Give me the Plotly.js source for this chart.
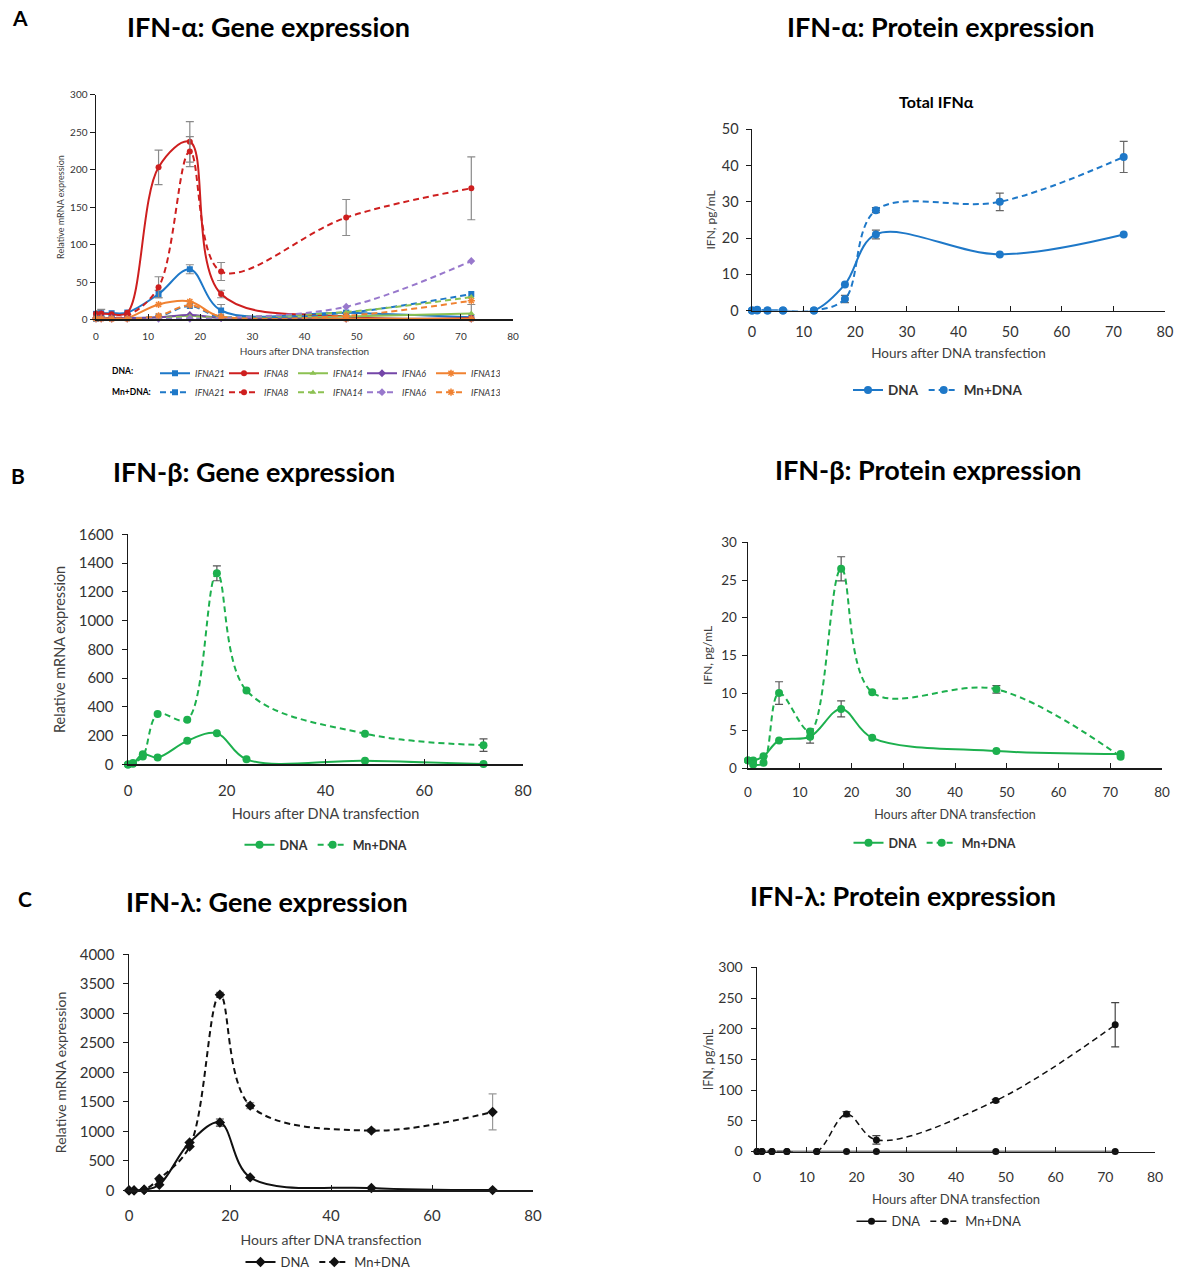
<!DOCTYPE html>
<html><head><meta charset="utf-8">
<script src="https://cdn.plot.ly/plotly-3.0.1.min.js"></script>
<style>body{margin:0;background:#fff}#chart{width:1177px;height:1277px}</style>
</head><body><div id="chart"></div>
<script>
// ---------- shared time points (hours after DNA transfection) ----------
const hours = [0, 1, 3, 6, 12, 18, 24, 48, 72];

// ---------- A (left): IFN-alpha gene expression ----------
const ifna21Dna    = [7.5, 8.4, 8.4, 9.3, 34, 67, 12, 9, 3];
const ifna21DnaErr = [4, 5, NaN, NaN, 5, 6, 8, NaN, NaN];
const ifna8Dna     = [7.5, 8, 7, 9, 203, 237, 34, 4, 2];
const ifna8DnaErr  = [NaN, NaN, NaN, NaN, 23, 27, 5, NaN, NaN];
const ifna14Dna    = [1, 1, 1, 1, 3, 5, 2, 4, 8];
const ifna14DnaErr = [NaN, NaN, NaN, NaN, NaN, NaN, NaN, NaN, 12];
const ifna6Dna     = [2, 2, 2, 2, 3, 6, 2, 1, 1];
const ifna13Dna    = [2, 2, 1, 2, 20, 24, 3, 1, 1];
const ifna21Mn     = [1, 2, 2, 2, 4, 18, 3, 9, 34];
const ifna8Mn      = [2, 2, 2, 5, 43, 224, 64, 136, 175];
const ifna8MnErr   = [NaN, NaN, NaN, NaN, 14, 20, 12, 24, 42];
const ifna14Mn     = [1, 1, 1, 1, 2, 4, 3, 10, 30];
const ifna6Mn      = [1, 1, 1, 1, 1, 1, 2, 17, 78];
const ifna13Mn     = [1, 1, 1, 1, 5, 19, 4, 5, 25];

// ---------- A (right): total IFN-alpha protein ----------
const ifnaProtDna    = [0, 0, 0, 0, 0, 7.2, 21.0, 15.5, 21.0];
const ifnaProtDnaErr = [NaN, NaN, NaN, NaN, NaN, NaN, 1.2, NaN, NaN];
const ifnaProtMn     = [0, 0.2, 0, 0, 0, 3.2, 27.7, 30.0, 42.4];
const ifnaProtMnErr  = [NaN, NaN, NaN, NaN, NaN, 1.0, 0.7, 2.4, 4.3];

// ---------- B: IFN-beta ----------
const ifnbGeneDna    = [0, 5, 71, 48, 164, 217, 35, 25, 2];
const ifnbGeneMn     = [0, 10, 55, 350, 311, 1330, 514, 214, 134];
const ifnbGeneMnErr  = [NaN, NaN, NaN, NaN, NaN, 52, NaN, NaN, 44];
const ifnbProtDna    = [1.06, 1.06, 1.6, 3.7, 4.2, 7.9, 4.05, 2.3, 1.9];
const ifnbProtDnaErr = [NaN, NaN, NaN, NaN, 0.85, 1.05, NaN, NaN, NaN];
const ifnbProtMn     = [1.06, 0.5, 0.75, 10.0, 4.9, 26.5, 10.1, 10.5, 1.55];
const ifnbProtMnErr  = [NaN, NaN, NaN, 1.5, NaN, 1.6, NaN, 0.5, NaN];

// ---------- C: IFN-lambda ----------
const ifnlGeneDna    = [0, 0, 10, 96, 811, 1150, 220, 40, 5];
const ifnlGeneDnaErr = [NaN, NaN, NaN, NaN, NaN, 60, NaN, NaN, NaN];
const ifnlGeneMn     = [0, 0, 10, 197, 744, 3318, 1437, 1014, 1330];
const ifnlGeneMnErr  = [NaN, NaN, NaN, NaN, NaN, 40, 50, 30, 305];
const ifnlProtDna    = [0, 0, 0, 0, 0, 0, 0, 0, 0];
const ifnlProtMn     = [0, 0, 0, 0, 0, 61, 19, 83, 206.5];
const ifnlProtMnErr  = [NaN, NaN, NaN, NaN, NaN, 4, 7, 2, 36];

const FONT = 'Lato, "Open Sans", sans-serif';
const DASH = '6px,4px';

function tr(y, err, name, color, dash, symbol, msize, axis, legend, ecolor, lw) {
  const t = {
    x: hours, y: y, name: name, type: 'scatter', mode: 'lines+markers',
    line: {color: color, width: lw || 2, dash: dash, shape: 'spline', smoothing: 1},
    marker: {color: color, size: msize, symbol: symbol, line: {color: color, width: symbol.indexOf('open') >= 0 ? 1.5 : 0}},
    xaxis: 'x' + axis, yaxis: 'y' + axis, legend: legend, cliponaxis: false,
    hoverinfo: 'x+y'
  };
  if (err) t.error_y = {type: 'data', array: err, visible: true, color: ecolor || '#8a8a8a', thickness: 1.2, width: 4};
  return t;
}

const cBlue = '#1E78C8', cRed = '#CE1F1F', cLGreen = '#8CC152', cPurp = '#7446A8', cPurpL = '#9878CC', cOrange = '#F08232';
const cGreen = '#1DB04E', cBlack = '#111111';

const traces = [
  tr(ifna21Dna, ifna21DnaErr, '<i>IFNA21</i>', cBlue, 'solid', 'square', 6, '', 'legend', null, 2),
  tr(ifna8Dna, ifna8DnaErr, '<i>IFNA8</i>', cRed, 'solid', 'circle', 6, '', 'legend', null, 2),
  tr(ifna14Dna, ifna14DnaErr, '<i>IFNA14</i>', cLGreen, 'solid', 'triangle-up', 6, '', 'legend', null, 2),
  tr(ifna6Dna, null, '<i>IFNA6</i>', cPurp, 'solid', 'diamond', 6, '', 'legend', null, 2),
  tr(ifna13Dna, null, '<i>IFNA13</i>', cOrange, 'solid', 'asterisk-open', 6, '', 'legend', null, 2),
  tr(ifna21Mn, null, '<i>IFNA21</i>', cBlue, DASH, 'square', 6, '', 'legend2', null, 2),
  tr(ifna8Mn, ifna8MnErr, '<i>IFNA8</i>', cRed, DASH, 'circle', 6, '', 'legend2', null, 2),
  tr(ifna14Mn, null, '<i>IFNA14</i>', cLGreen, DASH, 'triangle-up', 6, '', 'legend2', null, 2),
  tr(ifna6Mn, null, '<i>IFNA6</i>', cPurpL, DASH, 'diamond', 6, '', 'legend2', null, 2),
  tr(ifna13Mn, null, '<i>IFNA13</i>', cOrange, DASH, 'asterisk-open', 6, '', 'legend2', null, 2),

  tr(ifnaProtDna, ifnaProtDnaErr, '<b>DNA</b>', cBlue, 'solid', 'circle', 8, '2', 'legend3', '#666', 2),
  tr(ifnaProtMn, ifnaProtMnErr, '<b>Mn+DNA</b>', cBlue, DASH, 'circle', 8, '2', 'legend3', '#666', 2),

  tr(ifnbGeneDna, null, '<b>DNA</b>', cGreen, 'solid', 'circle', 8, '3', 'legend4', '#555', 2),
  tr(ifnbGeneMn, ifnbGeneMnErr, '<b>Mn+DNA</b>', cGreen, DASH, 'circle', 8, '3', 'legend4', '#555', 2),

  tr(ifnbProtDna, ifnbProtDnaErr, '<b>DNA</b>', cGreen, 'solid', 'circle', 8, '4', 'legend5', '#555', 2),
  tr(ifnbProtMn, ifnbProtMnErr, '<b>Mn+DNA</b>', cGreen, DASH, 'circle', 8, '4', 'legend5', '#555', 2),

  tr(ifnlGeneDna, ifnlGeneDnaErr, 'DNA', cBlack, 'solid', 'diamond', 8, '5', 'legend6', '#444', 2),
  tr(ifnlGeneMn, ifnlGeneMnErr, 'Mn+DNA', cBlack, DASH, 'diamond', 8, '5', 'legend6', '#999', 2),

  tr(ifnlProtDna, null, 'DNA', cBlack, 'solid', 'circle', 7, '6', 'legend7', '#444', 1.5),
  tr(ifnlProtMn, ifnlProtMnErr, 'Mn+DNA', cBlack, DASH, 'circle', 7, '6', 'legend7', '#444', 1.5)
];

const W = 1177, H = 1277;
function dx(a, b) { return [a / W, b / W]; }
function dy(top, bottom) { return [1 - bottom / H, 1 - top / H]; }

function xax(dom, anchor, dtick, fs, title, tfs, standoff, lso) {
  return {domain: dom, anchor: anchor, range: [0, 80], dtick: dtick, showgrid: false, zeroline: false,
    showline: true, linecolor: '#1a1a1a', linewidth: 1.5, ticks: 'inside', ticklen: 5, tickcolor: '#1a1a1a',
    ticklabelstandoff: lso, tickfont: {family: FONT, size: fs, color: '#333'}, fixedrange: true,
    title: {text: title, font: {family: FONT, size: tfs, color: '#404040'}, standoff: standoff}};
}
function yax(dom, anchor, range, dtick, fs, title, tfs, standoff, lso) {
  return {domain: dom, anchor: anchor, range: range, dtick: dtick, showgrid: false, zeroline: false,
    showline: true, linecolor: '#1a1a1a', linewidth: 1.5, ticks: 'outside', ticklen: 5, tickcolor: '#1a1a1a',
    ticklabelstandoff: lso, tickfont: {family: FONT, size: fs, color: '#333'}, fixedrange: true,
    title: {text: title, font: {family: FONT, size: tfs, color: '#404040'}, standoff: standoff}};
}

function leg(xc, yc, fs, anchor, ew) {
  const l = {x: xc / W, y: 1 - yc / H, xanchor: anchor || 'center', yanchor: 'middle', orientation: 'h',
    font: {family: FONT, size: fs, color: '#333'}, bgcolor: 'rgba(0,0,0,0)', itemwidth: 30, tracegroupgap: 0};
  if (ew) { l.entrywidth = ew; l.entrywidthmode = 'pixels'; }
  return l;
}

function ann(text, xc, yc, size, bold, anchor) {
  return {text: bold ? '<b>' + text + '</b>' : text, x: xc / W, y: 1 - yc / H, xref: 'paper', yref: 'paper',
    xanchor: anchor || 'center', yanchor: 'middle', showarrow: false, font: {family: FONT, size: size, color: '#000'}};
}

const layout = {
  width: W, height: H, margin: {l: 0, r: 0, t: 0, b: 0}, paper_bgcolor: '#fff', plot_bgcolor: '#fff',
  showlegend: true,
  xaxis:  xax(dx(96, 513), 'y', 10, 10, 'Hours after DNA transfection', 10, 7, 7),
  yaxis:  yax(dy(95, 321), 'x', [0, 300], 50, 10, 'Relative mRNA expression', 9, 4, 0),
  xaxis2: xax(dx(752, 1165), 'y2', 10, 14.5, 'Hours after DNA transfection', 13.5, 9, 8),
  yaxis2: yax(dy(130, 312), 'x2', [0, 50], 10, 14.5, 'IFN, pg/mL', 12, 3, 4),
  xaxis3: xax(dx(128, 523), 'y3', 20, 15, 'Hours after DNA transfection', 14.5, 11, 12),
  yaxis3: yax(dy(537, 768), 'x3', [0, 1600], 200, 15, 'Relative mRNA expression', 14.5, 9, 5),
  xaxis4: xax(dx(748, 1162), 'y4', 10, 13.5, 'Hours after DNA transfection', 12.5, 11, 11),
  yaxis4: yax(dy(545, 772), 'x4', [0, 30], 5, 13.5, 'IFN, pg/mL', 12, 6, 2),
  xaxis5: xax(dx(129, 533), 'y5', 20, 15, 'Hours after DNA transfection', 14, 12, 11),
  yaxis5: yax(dy(959, 1196), 'x5', [0, 4000], 500, 15, 'Relative mRNA expression', 14, 10, 5),
  xaxis6: xax(dx(757, 1155), 'y6', 10, 14, 'Hours after DNA transfection', 13, 11, 12),
  yaxis6: yax(dy(972, 1157), 'x6', [0, 300], 50, 14, 'IFN, pg/mL', 12.5, 2, 5),
  legend:  leg(155, 375, 9, 'left', 24),
  legend2: leg(155, 394, 9, 'left', 24),
  legend3: leg(938, 392, 13.5),
  legend4: leg(326, 849, 12.5),
  legend5: leg(935, 847, 12.5),
  legend6: leg(328, 1268, 13),
  legend7: leg(939, 1227, 13),
  annotations: [
    ann('A', 20, 18, 21, true),
    ann('B', 18, 478, 21, true),
    ann('C', 25, 903, 21, true),
    ann('IFN-α: Gene expression', 268, 27, 27, true),
    ann('IFN-α: Protein expression', 940, 27, 27, true),
    ann('IFN-β: Gene expression', 254, 474, 27, true),
    ann('IFN-β: Protein expression', 928, 472, 27, true),
    ann('IFN-λ: Gene expression', 267, 906, 27, true),
    ann('IFN-λ: Protein expression', 903, 900, 27, true),
    ann('Total IFNα', 936, 102, 16, true),
    ann('DNA:', 110, 373, 8.5, true, 'left'),
    ann('Mn+DNA:', 110, 394, 8.5, true, 'left')
  ]
};

Plotly.newPlot('chart', traces, layout, {staticPlot: true, displayModeBar: false});
</script>
</body></html>
